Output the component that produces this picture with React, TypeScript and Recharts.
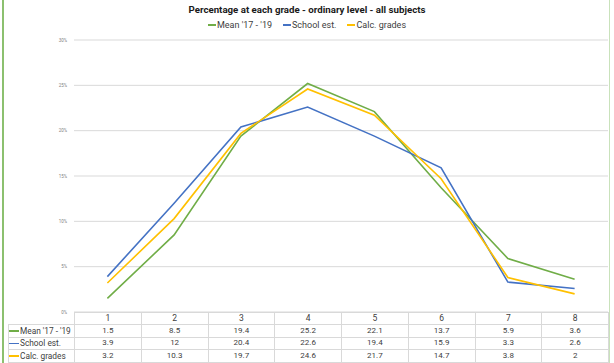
import { LineChart, Line, XAxis, YAxis, CartesianGrid } from "recharts";

/* ── Data ───────────────────────────────────────────── */

const grades = [1, 2, 3, 4, 5, 6, 7, 8];
const meanValues = [1.5, 8.5, 19.4, 25.2, 22.1, 13.7, 5.9, 3.6];
const schoolValues = [3.9, 12, 20.4, 22.6, 19.4, 15.9, 3.3, 2.6];
const calcValues = [3.2, 10.3, 19.7, 24.6, 21.7, 14.7, 3.8, 2];
const yTicks = [0, 5, 10, 15, 20, 25, 30];

const seriesNames = ["Mean '17 - '19", "School est.", "Calc. grades"];
const seriesKeys = ["mean", "school", "calc"];
const seriesValues = [meanValues, schoolValues, calcValues];
const seriesColors = ["#70ad47", "#4472c4", "#ffc000"];

const data = grades.map((g, i) => ({
  grade: g,
  mean: meanValues[i],
  school: schoolValues[i],
  calc: calcValues[i],
}));

/* ── Layout ─────────────────────────────────────────── */

const W = 614;
const H = 363;
const PLOT_LEFT = 74;
const PLOT_RIGHT = 608;
const PLOT_TOP = 40;
const PLOT_BOTTOM = 312;
const BAND = (PLOT_RIGHT - PLOT_LEFT) / grades.length;
const ROW_H = 12.4;
const LABEL_LEFT = 8;

const FONT = "Roboto, 'Open Sans', sans-serif";
const GRID = "#d9d9d9";
const TEXT = "#404040";

function Cell({ x, y, w, children, align = "center" }: {
  x: number; y: number; w: number; children: React.ReactNode; align?: "center" | "left";
}) {
  return (
    <div
      style={{
        position: "absolute", left: x, top: y, width: w, height: ROW_H + 1,
        boxSizing: "border-box", border: `1px solid ${GRID}`,
        display: "flex", alignItems: "center",
        justifyContent: align === "center" ? "center" : "flex-start",
        fontSize: 8, color: TEXT, whiteSpace: "nowrap", lineHeight: 1,
      }}
    >
      {children}
    </div>
  );
}

export default function App() {
  return (
    <div
      style={{
        position: "absolute", left: 0, top: 0, width: W, height: H,
        background: "#fff", fontFamily: FONT, overflow: "hidden",
      }}
    >
      {/* frame edges */}
      <div style={{ position: "absolute", left: 2, top: 0, width: 1.5, height: H, background: "#8cc06f" }} />
      <div style={{ position: "absolute", left: 609, top: 0, width: 1, height: H, background: "#c9e2bb" }} />

      {/* title */}
      <div
        style={{
          position: "absolute", left: 0, width: W, top: 4, textAlign: "center",
          fontSize: 9.7, fontWeight: 700, color: "#1a1a1a",
        }}
      >
        Percentage at each grade - ordinary level - all subjects
      </div>

      {/* legend */}
      <div
        style={{
          position: "absolute", left: 0, width: W, top: 20, display: "flex",
          justifyContent: "center", gap: 11, fontSize: 9, color: TEXT,
        }}
      >
        {seriesNames.map((n, i) => (
          <span key={n} style={{ display: "flex", alignItems: "center" }}>
            <span style={{ display: "inline-block", width: 8, height: 1.6, background: seriesColors[i], marginRight: 1 }} />
            {n}
          </span>
        ))}
      </div>

      <LineChart
        width={W}
        height={PLOT_BOTTOM + 8}
        data={data}
        margin={{ top: PLOT_TOP, right: W - PLOT_RIGHT, bottom: 8, left: 0 }}
        style={{ position: "absolute", left: 0, top: 0 }}
      >
        <CartesianGrid stroke={GRID} vertical={false} />
        <XAxis dataKey="grade" type="number" domain={[0.5, 8.5]} hide />
        <YAxis
          domain={[0, 30]}
          ticks={yTicks}
          width={PLOT_LEFT}
          axisLine={false}
          tickLine={false}
          tickSize={0}
          tickMargin={7}
          tick={{ fontSize: 4.5, fill: "#7f7f7f", fontFamily: FONT }}
          tickFormatter={(v: number) => `${v}%`}
        />
        {seriesKeys.map((k, i) => (
          <Line
            key={k}
            dataKey={k}
            stroke={seriesColors[i]}
            strokeWidth={1.6}
            dot={false}
            isAnimationActive={false}
          />
        ))}
      </LineChart>

      {/* data table */}
      {grades.map((g, i) => (
        <Cell key={`h${g}`} x={PLOT_LEFT + i * BAND} y={PLOT_BOTTOM} w={BAND + 1}>
          <span style={{ fontSize: 8.5 }}>{g}</span>
        </Cell>
      ))}
      {seriesNames.map((n, r) => (
        <div key={n}>
          <Cell x={LABEL_LEFT} y={PLOT_BOTTOM + (r + 1) * ROW_H} w={PLOT_LEFT - LABEL_LEFT + 1} align="left">
            <span style={{ display: "inline-block", width: 10, height: 1.6, background: seriesColors[r], marginRight: 1 }} />
            <span style={{ fontSize: 8.3 }}>{n}</span>
          </Cell>
          {seriesValues[r].map((v, i) => (
            <Cell key={i} x={PLOT_LEFT + i * BAND} y={PLOT_BOTTOM + (r + 1) * ROW_H} w={BAND + 1}>
              {v}
            </Cell>
          ))}
        </div>
      ))}
    </div>
  );
}
